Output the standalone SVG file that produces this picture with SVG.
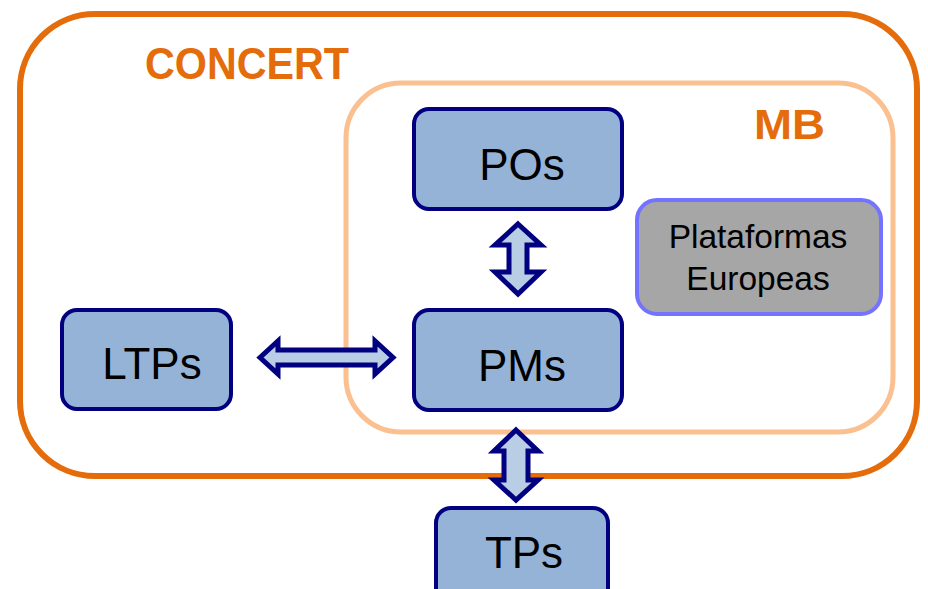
<svg xmlns="http://www.w3.org/2000/svg" width="928" height="589" viewBox="0 0 928 589">
<style>
.node{fill:#95B3D7;stroke:#000080;stroke-width:4}
.lbl{font-family:"Liberation Sans",Arial,sans-serif;font-size:44px;fill:#000;text-anchor:middle}
.plat{font-family:"Liberation Sans",Arial,sans-serif;font-size:33.5px;fill:#000;text-anchor:middle}
.title{font-family:"Liberation Sans",Arial,sans-serif;font-weight:bold;fill:#E46C0A}
.arrow{fill:#B9CDE5;stroke:#000080;stroke-width:5;stroke-linejoin:miter}
</style>
<rect width="928" height="589" fill="#fff"/>
<g id="concert">
<rect x="20" y="14" width="897" height="462" rx="75" fill="none" stroke="#E46C0A" stroke-width="6"/>
<text class="title" x="145" y="79" font-size="45" textLength="204" lengthAdjust="spacingAndGlyphs">CONCERT</text>
</g>
<g id="mb">
<rect x="346" y="83" width="547" height="349" rx="55" fill="none" stroke="#FAC090" stroke-width="5"/>
<text class="title" x="754" y="139" font-size="43" textLength="71" lengthAdjust="spacingAndGlyphs">MB</text>
</g>
<g id="pos">
<rect class="node" x="414" y="109" width="208" height="100" rx="15"/>
<text class="lbl" x="522" y="180">POs</text>
</g>
<g id="pms">
<rect class="node" x="414" y="310" width="208" height="100" rx="15"/>
<text class="lbl" x="522" y="381">PMs</text>
</g>
<g id="ltps">
<rect class="node" x="62" y="310" width="169" height="99" rx="15"/>
<text class="lbl" x="152" y="379">LTPs</text>
</g>
<g id="tps">
<rect class="node" x="436" y="508" width="172" height="100" rx="15"/>
<text class="lbl" x="524" y="568">TPs</text>
</g>
<g id="plataformas">
<rect x="637" y="200" width="244" height="114" rx="20" fill="#A6A6A6" stroke="#7373FF" stroke-width="4"/>
<text class="plat" x="758" y="248">Plataformas</text>
<text class="plat" x="758" y="290">Europeas</text>
</g>
<g id="connectors">
<polygon class="arrow" points="518,224 541,245 527,245 527,272 541,272 518,294 495,272 509,272 509,245 495,245"/>
<polygon class="arrow" points="260,357.5 278,341 278,350 375,350 375,341 393,357.5 375,374 375,365 278,365 278,374"/>
<polygon class="arrow" points="516,430 538,451 528,451 528,480 538,480 516,500 494,480 504,480 504,451 494,451"/>
</g>
</svg>
